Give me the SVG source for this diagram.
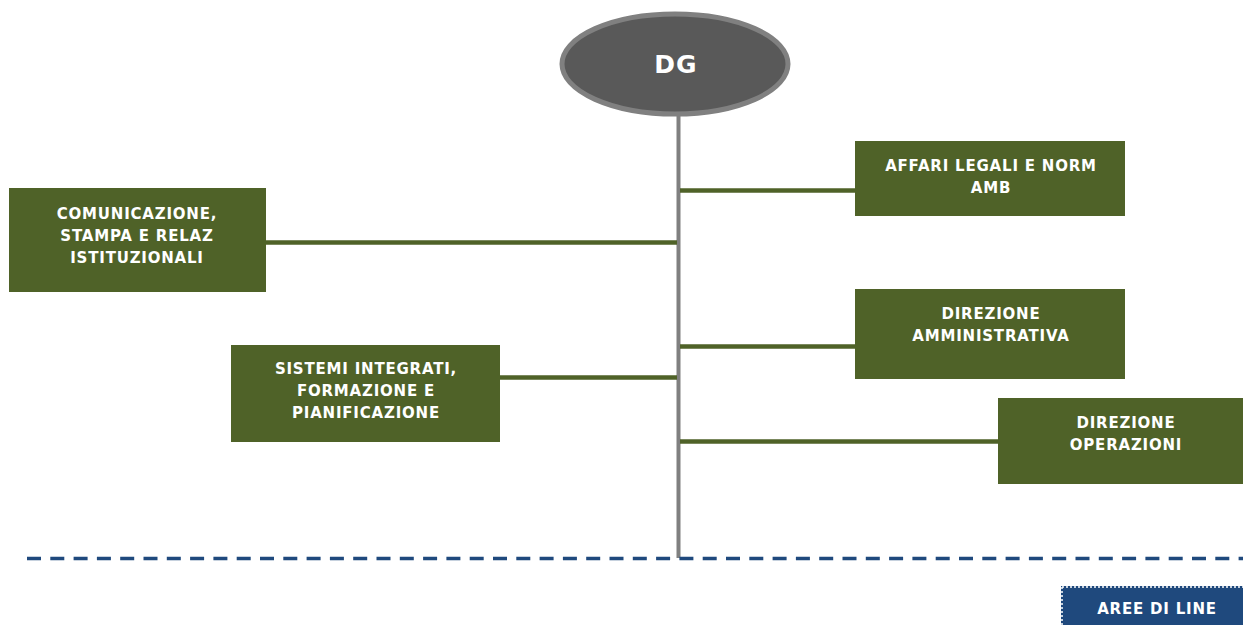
<svg xmlns="http://www.w3.org/2000/svg" width="1243" height="625" viewBox="0 0 1243 625">
<style>
.box{fill:#4F6228;}
.t{font-family:"DejaVu Sans",Verdana,sans-serif;font-weight:bold;font-size:15px;letter-spacing:0.8px;fill:#FFFFFF;text-anchor:middle;}
.g{stroke:#4F6228;stroke-width:4.5;fill:none;}
</style>
<rect width="1243" height="625" fill="#FFFFFF"/>
<g id="connectors">
<line x1="678.5" y1="112" x2="678.5" y2="558" stroke="#808080" stroke-width="4"/>
<line class="g" x1="680" y1="190.5" x2="856" y2="190.5"/>
<line class="g" x1="265" y1="242.5" x2="677" y2="242.5"/>
<line class="g" x1="680" y1="346.5" x2="856" y2="346.5"/>
<line class="g" x1="499" y1="377.5" x2="677" y2="377.5"/>
<line class="g" x1="680" y1="441.5" x2="999" y2="441.5"/>
<line x1="27" y1="558.5" x2="1243" y2="558.5" stroke="#1F497D" stroke-width="3.5" stroke-dasharray="14 9.3"/>
</g>
<g id="dg">
<ellipse cx="675" cy="64" rx="113" ry="50" fill="#595959" stroke="#808080" stroke-width="5"/>
<text class="t" x="676" y="73" style="font-size:25px;letter-spacing:1px">DG</text>
</g>
<g id="comunicazione">
<rect class="box" x="9" y="188" width="257" height="104"/>
<text class="t" x="137" y="219">COMUNICAZIONE,</text>
<text class="t" x="137" y="241">STAMPA E RELAZ</text>
<text class="t" x="137" y="263">ISTITUZIONALI</text>
</g>
<g id="sistemi">
<rect class="box" x="231" y="345" width="269" height="97"/>
<text class="t" x="366" y="374">SISTEMI INTEGRATI,</text>
<text class="t" x="366" y="396">FORMAZIONE E</text>
<text class="t" x="366" y="418">PIANIFICAZIONE</text>
</g>
<g id="affari">
<rect class="box" x="855" y="141" width="270" height="75"/>
<text class="t" x="991" y="171">AFFARI LEGALI E NORM</text>
<text class="t" x="991" y="193">AMB</text>
</g>
<g id="amministrativa">
<rect class="box" x="855" y="289" width="270" height="90"/>
<text class="t" x="991" y="319">DIREZIONE</text>
<text class="t" x="991" y="341">AMMINISTRATIVA</text>
</g>
<g id="operazioni">
<rect class="box" x="998" y="398" width="245" height="86"/>
<text class="t" x="1126" y="428">DIREZIONE</text>
<text class="t" x="1126" y="450">OPERAZIONI</text>
</g>
<g id="aree">
<rect x="1061" y="586" width="182" height="39" fill="#1F497D"/>
<path d="M1062 587 V625 M1062 587 H1243" stroke="#FFFFFF" stroke-width="1.5" stroke-dasharray="2 2" fill="none"/>
<text class="t" x="1157" y="614">AREE DI LINE</text>
</g>
</svg>
